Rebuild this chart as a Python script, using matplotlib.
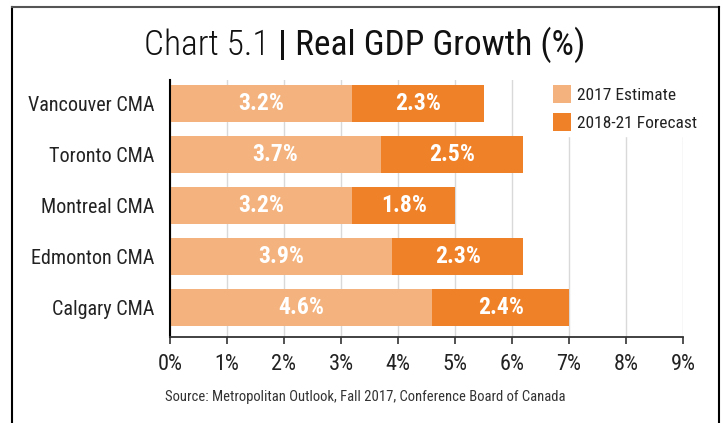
import matplotlib
matplotlib.use("Agg")
import matplotlib.pyplot as plt
from matplotlib import font_manager
from matplotlib.lines import Line2D
import numpy as np

categories = ["Vancouver CMA", "Toronto CMA", "Montreal CMA", "Edmonton CMA", "Calgary CMA"]
estimate_2017 = [3.2, 3.7, 3.2, 3.9, 4.6]
forecast_2018_21 = [2.3, 2.5, 1.8, 2.3, 2.4]
series_names = ["2017 Estimate", "2018-21 Forecast"]
x_ticks = [0, 1, 2, 3, 4, 5, 6, 7, 8, 9]
title_parts = ["Chart 5.1 ", "|", " Real GDP Growth (%)"]
source = "Source: Metropolitan Outlook, Fall 2017, Conference Board of Canada"

names = {f.name for f in font_manager.fontManager.ttflist}
family = None
for cand in ["Roboto Condensed", "Liberation Sans Narrow", "Open Sans Condensed", "Arial Narrow"]:
    if cand in names:
        family = cand
        break
fam_list = [family] if family else []
fam_list += ["Liberation Sans", "DejaVu Sans"]
plt.rcParams["font.family"] = fam_list

c_light = "#F4B37E"
c_dark = "#EF8128"

fig = plt.figure(figsize=(7.23, 4.23), dpi=100)
ax = fig.add_axes([170 / 723, 86 / 423, 513 / 723, (337 - 80) / 423])

y = np.arange(len(categories))
h = 0.71
b1 = ax.barh(y, estimate_2017, height=h, color=c_light, label=series_names[0], zorder=2)
b2 = ax.barh(y, forecast_2018_21, left=estimate_2017, height=h, color=c_dark, label=series_names[1], zorder=2)

for vals, lefts in [(estimate_2017, [0] * len(categories)), (forecast_2018_21, estimate_2017)]:
    for yi, v, l in zip(y, vals, lefts):
        ax.text(l + v / 2, yi, f"{v:.1f}%", ha="center", va="center", color="white",
                fontsize=17, fontweight="bold", zorder=3)

ax.set_ylim(4.58, -0.46)
ax.set_xlim(0, 9)
ax.set_xticks(x_ticks)
ax.set_xticklabels([f"{t}%" for t in x_ticks], fontsize=16, color="#222222")
ax.set_yticks(y)
ax.set_yticklabels(categories, fontsize=14.5, color="#222222")
ax.tick_params(axis="y", length=0, pad=11)
ax.tick_params(axis="x", length=5, width=1.2, color="#333333", pad=7)
ax.grid(axis="x", color="#d9d9d9", linewidth=1, zorder=0)
ax.set_axisbelow(True)
for s in ["top", "right"]:
    ax.spines[s].set_visible(False)
ax.spines["left"].set_color("black")
ax.spines["left"].set_linewidth(1.5)
ax.spines["bottom"].set_color("#333333")
ax.spines["bottom"].set_linewidth(1.3)

leg = ax.legend(loc="upper left", bbox_to_anchor=(548 / 723, 1 - 80 / 423), bbox_transform=fig.transFigure,
                frameon=True, fontsize=12.5, handlelength=1.0, handleheight=1.2, handletextpad=0.35,
                labelspacing=0.6, borderpad=0.3, borderaxespad=0)
leg.get_frame().set_edgecolor("white")
leg.get_frame().set_facecolor("white")
leg.get_frame().set_alpha(1)
leg.set_zorder(5)
for t in leg.get_texts():
    t.set_color("#222222")

# title in three pieces: light / bold bar / regular
weights = [300, "bold", "normal"]
texts = []
for part, w in zip(title_parts, weights):
    texts.append(fig.text(0, 1 - 45 / 423, part, ha="left", va="center", fontsize=25.5,
                          fontweight=w, color="#111111"))
fig.canvas.draw()
r = fig.canvas.get_renderer()
widths = [t.get_window_extent(r).width for t in texts]
total = sum(widths)
x0 = 365 - total / 2
for t, w in zip(texts, widths):
    t.set_x(x0 / 723)
    x0 += w

fig.text(365 / 723, 1 - 397 / 423, source, ha="center", va="center", fontsize=10.5, color="#333333")

fig.add_artist(Line2D([11.5 / 723, 11.5 / 723], [0, 1 - 7 / 423], transform=fig.transFigure, color="black", linewidth=1.5))
fig.add_artist(Line2D([11.5 / 723, 719 / 723], [1 - 7 / 423, 1 - 7 / 423], transform=fig.transFigure, color="#555555", linewidth=1.5))
fig.add_artist(Line2D([719 / 723, 719 / 723], [0, 1 - 7 / 423], transform=fig.transFigure, color="black", linewidth=1.5))

fig.savefig("out.png", dpi=100)
